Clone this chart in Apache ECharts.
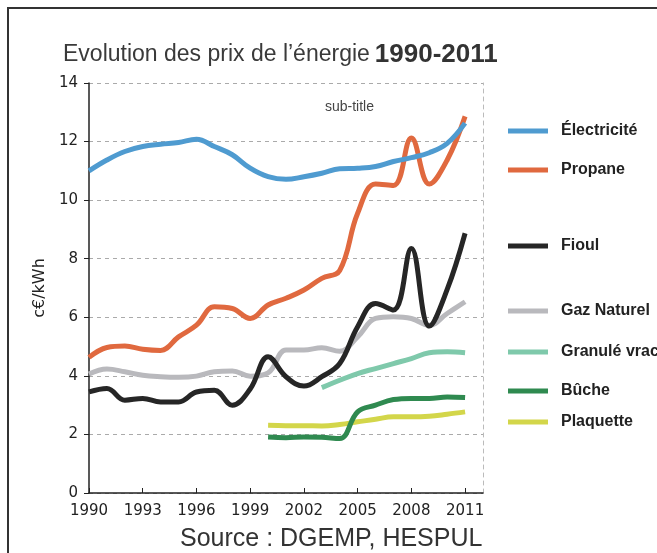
<!DOCTYPE html>
<html>
<head>
<meta charset="utf-8">
<script src="https://cdn.jsdelivr.net/npm/echarts@6/dist/echarts.min.js"></script>
<style>
  html, body { margin: 0; padding: 0; background: #fff; }
  #chart { width: 657px; height: 553px; }
</style>
</head>
<body>
<div id="chart"></div>
<script>
// years on the x axis (2012 is an empty slot so the plot runs a bit past 2011)
const years = ['1990','1991','1992','1993','1994','1995','1996','1997','1998','1999','2000',
  '2001','2002','2003','2004','2005','2006','2007','2008','2009','2010','2011','2012']

// prices in c€/kWh
const electricite = [11.0, 11.37, 11.66, 11.83, 11.91, 11.97, 12.08, 11.83, 11.55, 11.09, 10.8,
  10.71, 10.8, 10.92, 11.07, 11.09, 11.15, 11.32, 11.45, 11.62, 11.94, 12.63]
const propane = [4.63, 4.97, 5.02, 4.91, 4.87, 5.33, 5.73, 6.36, 6.3, 5.96, 6.42,
  6.65, 6.93, 7.33, 7.6, 9.55, 10.55, 10.5, 12.12, 10.55, 11.37, 12.86]
const fioul = [3.45, 3.57, 3.17, 3.23, 3.11, 3.11, 3.45, 3.51, 3.0, 3.55, 4.65,
  3.97, 3.65, 3.97, 4.42, 5.68, 6.47, 6.25, 8.35, 5.7, 6.95, 8.87]
const gazNaturel = [4.06, 4.23, 4.14, 4.02, 3.97, 3.95, 3.99, 4.14, 4.17, 3.99, 4.1,
  4.88, 4.88, 4.96, 4.84, 5.33, 5.96, 6.02, 5.96, 5.73, 6.13, 6.53]
const granule = [null, null, null, null, null, null, null, null, null, null, null,
  null, null, 3.6, 3.85, 4.08, 4.25, 4.42, 4.59, 4.79, 4.82, 4.79]
const buche = [null, null, null, null, null, null, null, null, null, null, 1.91,
  1.89, 1.91, 1.9, 1.86, 2.77, 3.0, 3.19, 3.23, 3.23, 3.28, 3.26]
const plaquette = [null, null, null, null, null, null, null, null, null, null, 2.31,
  2.3, 2.3, 2.29, 2.34, 2.43, 2.52, 2.6, 2.6, 2.62, 2.69, 2.77]

const names = ['Électricité', 'Propane', 'Fioul', 'Gaz Naturel', 'Granulé vrac', 'Bûche', 'Plaquette']
const values = [electricite, propane, fioul, gazNaturel, granule, buche, plaquette]
const colors = ['#4f9bd0', '#e0693f', '#262626', '#b9b9bd', '#7fc9ab', '#2f8a50', '#d3d64a']
const legendTops = [127, 166, 242, 307, 348, 387, 418]

const chart = echarts.init(document.getElementById('chart'))

const series = names.map((name, i) => ({
  name: name,
  type: 'line',
  data: values[i],
  smooth: 0.4,
  showSymbol: false,
  connectNulls: false,
  lineStyle: { width: 5, color: colors[i] },
  itemStyle: { color: colors[i] },
  z: 10 - i
}))

// one legend per item, since the spacing in the original is uneven
const legends = names.map((name, i) => ({
  data: [name],
  left: 503,
  top: legendTops[i] - 9,
  icon: 'rect',
  itemWidth: 40,
  itemHeight: 5,
  itemGap: 0,
  selectedMode: false,
  textStyle: {
    fontFamily: 'Liberation Sans',
    fontWeight: 'bold',
    fontSize: 16,
    color: '#222',
    padding: [0, 0, 0, 8]
  }
}))

chart.setOption({
  backgroundColor: '#fff',
  animation: false,
  title: [{
    text: '{a|Evolution des prix de l’énergie} {b|1990-2011}',
    left: 58,
    top: 37,
    textStyle: {
      fontWeight: 'normal',
      rich: {
        a: { fontFamily: 'Liberation Sans', fontSize: 23, fontWeight: 'normal', color: '#3a3a3a' },
        b: { fontFamily: 'Liberation Sans', fontSize: 26, fontWeight: 'bold', color: '#333' }
      }
    }
  }, {
    text: 'sub-title',
    left: 320,
    top: 95,
    textStyle: { fontFamily: 'Liberation Sans', fontSize: 14, fontWeight: 'normal', color: '#444' }
  }],
  legend: legends,
  grid: { left: 89, right: 174, top: 83, bottom: 60 },
  xAxis: {
    type: 'category',
    data: years,
    boundaryGap: false,
    axisLine: { lineStyle: { color: '#222', width: 1.5 } },
    axisTick: { inside: true, length: 5, interval: 2, lineStyle: { color: '#222' } },
    axisLabel: {
      interval: 2,
      margin: 11,
      fontFamily: 'DejaVu Sans',
      fontSize: 15,
      color: '#222',
      formatter: v => (v === '2012' ? '' : v)
    },
    splitLine: { show: false }
  },
  yAxis: [{
    type: 'value',
    min: 0,
    max: 14,
    interval: 2,
    name: 'c€/kWh',
    nameLocation: 'middle',
    nameGap: 40,
    nameRotate: 90,
    nameTextStyle: { fontFamily: 'DejaVu Sans', fontSize: 16, color: '#222' },
    axisLine: { show: true, lineStyle: { color: '#222', width: 1.5 } },
    axisTick: { show: true, length: 5, lineStyle: { color: '#222' } },
    axisLabel: { margin: 11, fontFamily: 'DejaVu Sans', fontSize: 15, color: '#222' },
    splitLine: { lineStyle: { color: '#aaa', type: [4, 4], width: 1 } }
  }, {
    type: 'value',
    position: 'right',
    min: 0,
    max: 14,
    interval: 2,
    axisLine: { show: true, lineStyle: { color: '#bbb', type: [4, 4], width: 1 } },
    axisTick: { show: false },
    axisLabel: { show: false },
    splitLine: { show: false }
  }],
  series: series,
  graphic: [
    { type: 'line', shape: { x1: 8, y1: 7, x2: 8, y2: 553 }, style: { stroke: '#333', lineWidth: 2 } },
    { type: 'line', shape: { x1: 7, y1: 8, x2: 657, y2: 8 }, style: { stroke: '#333', lineWidth: 2 } },
    {
      type: 'text',
      left: 180,
      top: 527,
      style: { text: 'Source : DGEMP, HESPUL', font: '25px "Liberation Sans"', fill: '#333' }
    }
  ]
})
</script>
</body>
</html>
